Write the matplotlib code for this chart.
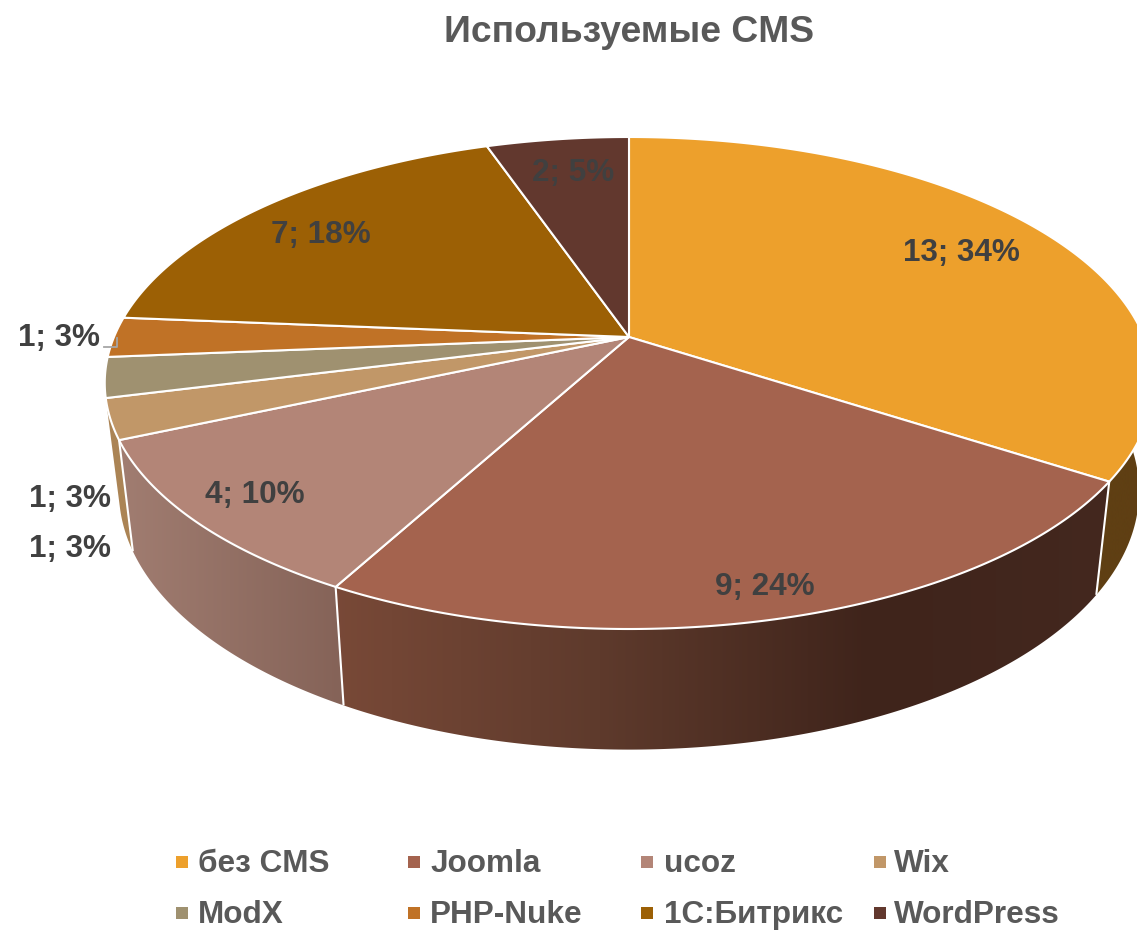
# -*- coding: utf-8 -*-
from matplotlib import pyplot as plt
from matplotlib.colors import LinearSegmentedColormap
from matplotlib.patches import Polygon
import numpy as np

plt.rcParams['font.family'] = ['Liberation Sans', 'DejaVu Sans']

#the chart data
names = ['без CMS', 'Joomla', 'ucoz', 'Wix', 'ModX', 'PHP-Nuke', '1С:Битрикс', 'WordPress']
counts = [13, 9, 4, 1, 1, 1, 7, 2]
percents = [34, 24, 10, 3, 3, 3, 18, 5]
colors = ['#EDA02C', '#A4634E', '#B38577', '#C19768', '#9F9170', '#C07226', '#9C6005', '#62382E']

#projection of the tilted disc, in pixels
CX, CY = 629, 337
A, B, K = 515, 237.4, 0.187
BOTTOM_CY, BOTTOM_SX, BOTTOM_SY = 443, 0.973, 1.05


def top_xy(deg):
    t = np.radians(deg)
    x, y = np.sin(t), np.cos(t)
    w = 1 + K * y
    return A * x / w, -B * y / w


def top_pts(deg):
    x, y = top_xy(deg)
    return CX + x, CY + y


def bottom_pts(deg):
    x, y = top_xy(deg)
    return CX + BOTTOM_SX * x, BOTTOM_CY + BOTTOM_SY * y


#side wall shading, screen x -> colour
wall_shades = {
    0: ([1080, 1170], ['#5F3F13', '#5F3F13']),
    1: ([320, 600, 870, 1125], ['#7A4A38', '#5E3A2C', '#3F241B', '#44281F']),
    2: ([110, 350], ['#A27E72', '#846257']),
    3: ([95, 145], ['#AB8455', '#AB8455']),
}

fig = plt.figure(figsize=(11.37, 9.3), dpi=100)
ax = fig.add_axes([0, 0, 1, 1])

edges = np.cumsum([0] + counts) / sum(counts) * 360

#walls first, the top goes over them
for i, shade in wall_shades.items():
    start, end = max(edges[i], 90), edges[i + 1]
    th = np.linspace(start, end, 200)
    tx, ty = top_pts(th)
    bx, by = bottom_pts(th)
    outline = np.c_[np.r_[tx, bx[::-1]], np.r_[ty, by[::-1]]]
    poly = Polygon(outline, closed=True, facecolor='none', edgecolor='none')
    ax.add_patch(poly)
    #one row gradient, clipped to the wall shape
    x0, x1 = shade[0][0], shade[0][-1]
    stops = [(x - x0) / (x1 - x0) for x in shade[0]]
    cmap = LinearSegmentedColormap.from_list('wall%d' % i, list(zip(stops, shade[1])))
    im = ax.imshow(np.linspace(0, 1, 512).reshape(1, -1), cmap=cmap, aspect='auto',
                   extent=(x0, x1, 800, 300), interpolation='bilinear', zorder=1)
    im.set_clip_path(poly)

ax.set_xlim(0, 1137)
ax.set_ylim(930, 0)
ax.axis('off')

#white dividers on the wall
for i in [0, 1, 2]:
    d = edges[i + 1]
    tx, ty = top_pts(d)
    bx, by = bottom_pts(d)
    ax.plot([tx, bx], [ty, by], color='white', lw=1.5, zorder=2, solid_capstyle='butt')

#top of the pie
for i in range(len(counts)):
    th = np.linspace(edges[i], edges[i + 1], 200)
    tx, ty = top_pts(th)
    ax.fill(np.r_[CX, tx], np.r_[CY, ty], facecolor=colors[i], edgecolor='white', lw=1.5,
            joinstyle='round', zorder=3)

#labels
label_pos = [(961, 253), (765, 587), (255, 495), (70, 499), (70, 549), (59, 338), (321, 235), (573, 173)]
for i in range(len(counts)):
    ax.text(label_pos[i][0], label_pos[i][1], '%d; %d%%' % (counts[i], percents[i]), color='#404040',
            fontsize=22.7, fontweight='bold', ha='center', va='center', zorder=5)

#small leader line of the PHP-Nuke label
ax.plot([104, 117, 117], [347, 347, 338], color='#A6A6A6', lw=1.3, zorder=5)

ax.text(629, 32, 'Используемые CMS', color='#595959', fontsize=26.8, fontweight='bold',
        ha='center', va='center')

#legend, 4 columns and 2 rows
marker_x = [182, 414, 647, 880]
legend_x = [198, 430, 664, 894]
legend_y = [862, 913]
for i, name in enumerate(names):
    col = i % 4
    ly = legend_y[i // 4]
    ax.scatter([marker_x[col]], [ly], marker='s', s=72, color=colors[i], linewidths=0)
    ax.text(legend_x[col], ly + 2, name, color='#595959', fontsize=22.7, fontweight='bold',
            ha='left', va='center')

fig.savefig('out.png', dpi=100)
